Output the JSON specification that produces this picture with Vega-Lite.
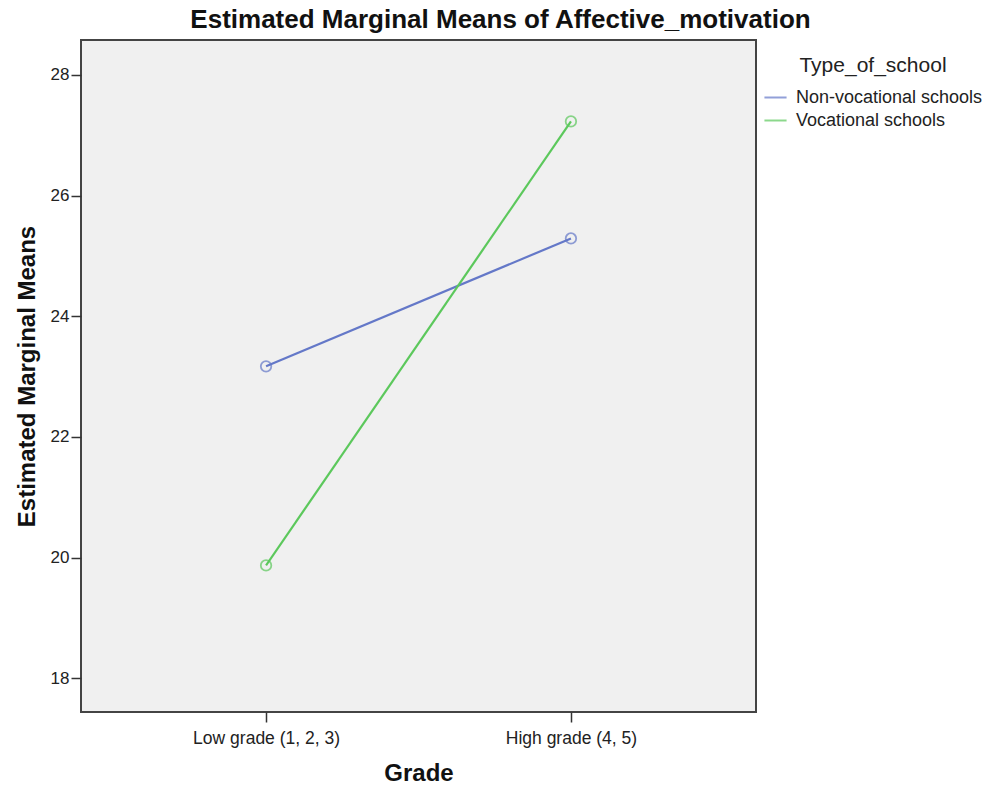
{
  "$schema": "https://vega.github.io/schema/vega-lite/v6.json",
  "autosize": {"type": "none"},
  "padding": {"left": 81, "top": 40, "right": 233, "bottom": 75},
  "width": 675,
  "height": 672,
  "background": "white",
  "title": {
    "text": "Estimated Marginal Means of Affective_motivation",
    "font": "Liberation Sans",
    "fontSize": 26,
    "fontWeight": "bold",
    "color": "#111111",
    "anchor": "middle",
    "dx": 82,
    "offset": 7
  },
  "config": {
    "view": {"fill": "#f0f0f0", "stroke": "#444444", "strokeWidth": 2},
    "font": "Liberation Sans"
  },
  "data": {
    "values": [
      {"Grade": "Low grade (1, 2, 3)", "Type_of_school": "Non-vocational schools", "Mean": 23.17},
      {"Grade": "High grade (4, 5)", "Type_of_school": "Non-vocational schools", "Mean": 25.29},
      {"Grade": "Low grade (1, 2, 3)", "Type_of_school": "Vocational schools", "Mean": 19.87},
      {"Grade": "High grade (4, 5)", "Type_of_school": "Vocational schools", "Mean": 27.23}
    ]
  },
  "encoding": {
    "x": {
      "field": "Grade", "type": "nominal",
      "sort": ["Low grade (1, 2, 3)", "High grade (4, 5)"],
      "scale": {"type": "point", "padding": 0.607},
      "axis": {
        "title": "Grade", "titleFontSize": 24, "titleFontWeight": "bold", "titleColor": "#111111",
        "titlePadding": 15, "labelAngle": 0, "labelFontSize": 17.5, "labelColor": "#222222",
        "labelPadding": 7, "tickSize": 10, "tickWidth": 1.5, "tickColor": "#333333", "domain": false, "grid": false
      }
    },
    "y": {
      "field": "Mean", "type": "quantitative",
      "scale": {"domain": [17.44, 28.58], "nice": false, "zero": false},
      "axis": {
        "title": "Estimated Marginal Means", "titleFontSize": 24, "titleFontWeight": "bold", "titleColor": "#111111",
        "titlePadding": 11, "values": [18, 20, 22, 24, 26, 28], "labelFontSize": 17, "labelColor": "#222222",
        "labelPadding": 2, "tickSize": 10, "tickWidth": 1.5, "tickColor": "#333333", "domain": false, "grid": false
      }
    },
    "color": {
      "field": "Type_of_school", "type": "nominal",
      "scale": {"domain": ["Non-vocational schools", "Vocational schools"], "range": ["#6478c8", "#5cc85c"]},
      "legend": {
        "title": "Type_of_school", "orient": "none", "legendX": 682, "legendY": 15,
        "titleFontSize": 21, "titleFontWeight": "normal", "titleColor": "#222222", "titlePadding": 9,
        "titleAnchor": "middle", "labelLimit": 300,
        "labelFontSize": 18, "labelColor": "#222222", "symbolType": "stroke", "symbolSize": 490,
        "symbolStrokeWidth": 2, "labelOffset": 8, "rowPadding": 1
      }
    }
  },
  "layer": [
    {"mark": {"type": "line", "strokeWidth": 2.2}},
    {"mark": {"type": "point", "filled": false, "size": 110, "strokeWidth": 1.8}}
  ]
}
